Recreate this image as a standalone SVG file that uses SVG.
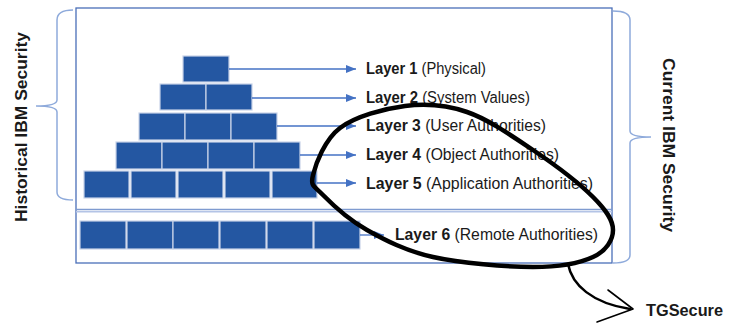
<svg xmlns="http://www.w3.org/2000/svg" width="729" height="325" viewBox="0 0 729 325">
<style>
.blk{fill:#2457a2;stroke:#c8d3e8;stroke-width:1.2}
.lbl{font-family:"Liberation Sans",Arial,sans-serif;font-size:16px;fill:#1a1a1a}
.b{font-weight:bold}
.side{font-family:"Liberation Sans",Arial,sans-serif;font-weight:bold;fill:#1a1a1a}
.arr{stroke:#4472c4;stroke-width:1.3;fill:none}
.brace{stroke:#8eaadb;stroke-width:1.5;fill:none}
.ink{stroke:#000;fill:none;stroke-linecap:round;stroke-linejoin:round}
</style>
<defs>
<marker id="ah" markerUnits="userSpaceOnUse" markerWidth="11" markerHeight="9" refX="10" refY="4" orient="auto">
<path d="M0,0 L10,4 L0,8 Z" fill="#4472c4"/>
</marker>
</defs>
<rect width="729" height="325" fill="#fff"/>

<g id="frame">
<rect x="76" y="8" width="536" height="255" fill="none" stroke="#4a6fb8" stroke-width="1.3"/>
<line x1="76" y1="209.5" x2="612" y2="209.5" stroke="#7f9bd0" stroke-width="1.3"/>
<line x1="76" y1="211.8" x2="612" y2="211.8" stroke="#b4c4e6" stroke-width="1.6"/>
</g>

<g id="brace-historical">
<path class="brace" d="M73,10 Q57,10 57,20 L57,100 Q57,106 36,106 Q57,106 57,112 L57,192 Q57,200 73,200"/>
<text class="side" font-size="16.5" text-anchor="middle" textLength="190" lengthAdjust="spacingAndGlyphs" transform="translate(27,127) rotate(-90)">Historical IBM Security</text>
</g>

<g id="brace-current">
<path class="brace" d="M613,11 Q630,11 630,20 L630,131 Q630,137 651,137 Q630,137 630,143 L630,255 Q630,263 613,263"/>
<text class="side" font-size="16.5" text-anchor="middle" textLength="174" lengthAdjust="spacingAndGlyphs" transform="translate(663,145) rotate(90)">Current IBM Security</text>
</g>

<g id="layer1">
<rect class="blk" x="183" y="56" width="46" height="26"/>
<text class="lbl" x="366" y="74" textLength="120" lengthAdjust="spacingAndGlyphs"><tspan class="b">Layer 1</tspan> (Physical)</text>
</g>
<g id="layer2">
<rect class="blk" x="160" y="84" width="46" height="26"/>
<rect class="blk" x="206" y="84" width="46" height="26"/>
<text class="lbl" x="366" y="103" textLength="164" lengthAdjust="spacingAndGlyphs"><tspan class="b">Layer 2</tspan> (System Values)</text>
</g>
<g id="layer3">
<rect class="blk" x="139" y="113" width="46" height="27"/>
<rect class="blk" x="185" y="113" width="46" height="27"/>
<rect class="blk" x="231" y="113" width="46" height="27"/>
<text class="lbl" x="366" y="131" textLength="180" lengthAdjust="spacingAndGlyphs"><tspan class="b">Layer 3</tspan> (User Authorities)</text>
</g>
<g id="layer4">
<rect class="blk" x="116" y="142" width="46" height="27"/>
<rect class="blk" x="162" y="142" width="46" height="27"/>
<rect class="blk" x="208" y="142" width="46" height="27"/>
<rect class="blk" x="254" y="142" width="46" height="27"/>
<text class="lbl" x="366" y="160" textLength="193" lengthAdjust="spacingAndGlyphs"><tspan class="b">Layer 4</tspan> (Object Authorities)</text>
</g>
<g id="layer5">
<rect class="blk" x="84" y="171" width="45" height="27"/>
<rect class="blk" x="131" y="171" width="45" height="27"/>
<rect class="blk" x="178" y="171" width="45" height="27"/>
<rect class="blk" x="225" y="171" width="45" height="27"/>
<rect class="blk" x="272" y="171" width="45" height="27"/>
<text class="lbl" x="366" y="189" textLength="227" lengthAdjust="spacingAndGlyphs"><tspan class="b">Layer 5</tspan> (Application Authorities)</text>
</g>
<g id="layer6">
<rect class="blk" x="80" y="221" width="46" height="28"/>
<rect class="blk" x="127" y="221" width="46" height="28"/>
<rect class="blk" x="173" y="221" width="46" height="28"/>
<rect class="blk" x="220" y="221" width="46" height="28"/>
<rect class="blk" x="267" y="221" width="46" height="28"/>
<rect class="blk" x="314" y="221" width="46" height="28"/>
<text class="lbl" x="395" y="240" textLength="203" lengthAdjust="spacingAndGlyphs"><tspan class="b">Layer 6</tspan> (Remote Authorities)</text>
</g>

<g id="connectors">
<line class="arr" x1="229" y1="69" x2="356" y2="69" marker-end="url(#ah)"/>
<line class="arr" x1="252" y1="98" x2="356" y2="98" marker-end="url(#ah)"/>
<line class="arr" x1="277" y1="126" x2="356" y2="126" marker-end="url(#ah)"/>
<line class="arr" x1="300" y1="155" x2="356" y2="155" marker-end="url(#ah)"/>
<line class="arr" x1="317" y1="183" x2="356" y2="183" marker-end="url(#ah)"/>
<line class="arr" x1="360" y1="235" x2="384" y2="235" marker-end="url(#ah)"/>
</g>

<g id="tgsecure-annotation">
<path class="ink" stroke-width="4.5" d="M313,175 C315.8,163.8 324.7,139.5 340,128 C355.3,116.5 383.8,108.7 405,106 C426.2,103.3 445.7,104.7 467,112 C488.3,119.3 511.7,135.8 533,150 C554,164.2 579.7,183.7 593,197 C606.3,210.3 613,220 613,230 C613,240 606.3,250.8 593,257 C579.7,263.2 559.7,267 533,267 C506.3,267 460.7,263.2 433,257 C405.3,250.8 385.3,240.3 367,230 C348.7,219.7 332,204.2 323,195 C314,185.8 310.2,186.2 313,175 Z"/>
<path class="ink" stroke-width="2.5" d="M568,264 C572,285 592,303 630,309"/>
<path class="ink" stroke-width="1.6" d="M608,290 L633,309 L597,322"/>
<text class="side" font-size="17" x="646" y="316" textLength="77" lengthAdjust="spacingAndGlyphs">TGSecure</text>
</g>
</svg>
